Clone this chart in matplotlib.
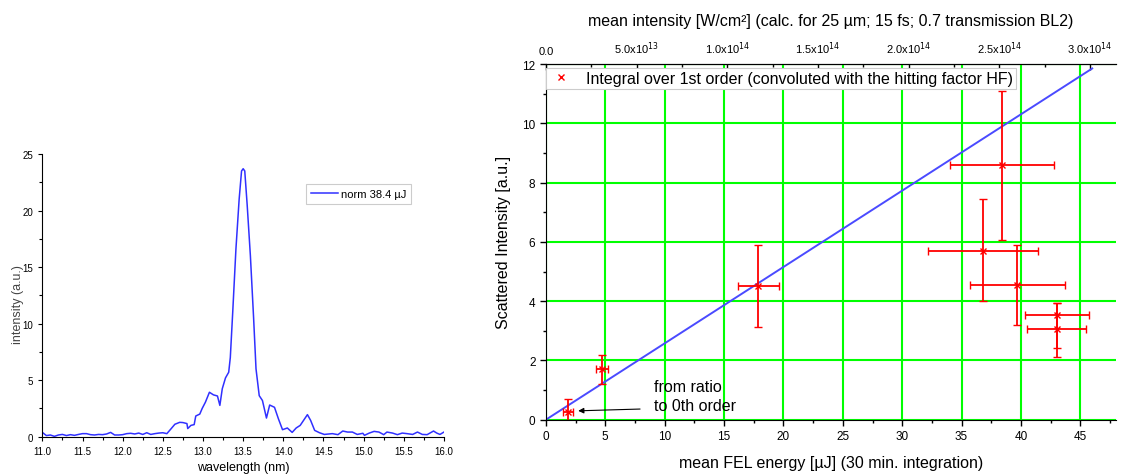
import numpy as np
import matplotlib
matplotlib.use('Agg')
import matplotlib.pyplot as plt
from matplotlib.ticker import MultipleLocator, FixedLocator, FixedFormatter

plt.rcParams['font.family'] = ['Liberation Sans', 'DejaVu Sans']

# spectrum (left)
wavelength = [11.0, 11.05, 11.1, 11.15, 11.2, 11.25, 11.3, 11.35, 11.4, 11.45, 11.5, 11.55, 11.6, 11.65,
              11.7, 11.75, 11.8, 11.85, 11.9, 11.95, 12.0, 12.05, 12.1, 12.15, 12.2, 12.25, 12.3, 12.35,
              12.4, 12.45, 12.5, 12.55, 12.6, 12.65, 12.71, 12.75, 12.8, 12.81, 12.85, 12.89, 12.91, 12.96,
              12.99, 13.03, 13.08, 13.13, 13.18, 13.21, 13.24, 13.28, 13.32, 13.34, 13.37, 13.41, 13.45,
              13.48, 13.5, 13.52, 13.55, 13.59, 13.63, 13.66, 13.7, 13.74, 13.79, 13.83, 13.89, 13.94,
              13.99, 14.05, 14.11, 14.16, 14.21, 14.3, 14.34, 14.39, 14.45, 14.51, 14.61, 14.68, 14.74,
              14.8, 14.86, 14.92, 14.99, 15.01, 15.07, 15.13, 15.19, 15.25, 15.29, 15.36, 15.42, 15.48,
              15.54, 15.61, 15.67, 15.73, 15.79, 15.87, 15.91, 15.95, 16.0]
intensity = [0.38, 0.1, 0.15, 0.03, 0.15, 0.2, 0.1, 0.18, 0.12, 0.2, 0.27, 0.27, 0.18, 0.15,
             0.2, 0.18, 0.24, 0.38, 0.15, 0.15, 0.18, 0.27, 0.3, 0.24, 0.32, 0.2, 0.35, 0.2,
             0.27, 0.32, 0.35, 0.27, 0.68, 1.1, 1.27, 1.25, 1.16, 0.72, 1.0, 1.07, 1.83, 2.0,
             2.5, 3.05, 3.93, 3.7, 3.6, 2.77, 4.24, 5.2, 5.7, 7.0, 11.0, 16.6, 21.0,
             23.5, 23.7, 23.5, 20.5, 16.0, 10.5, 6.0, 3.63, 3.2, 1.65, 2.8, 2.6, 1.56,
             0.62, 0.77, 0.38, 0.77, 1.0, 1.95, 1.44, 0.56, 0.35, 0.2, 0.27, 0.18, 0.5,
             0.41, 0.41, 0.2, 0.3, 0.12, 0.32, 0.47, 0.41, 0.18, 0.41, 0.32, 0.18, 0.32,
             0.27, 0.2, 0.41, 0.2, 0.18, 0.5, 0.32, 0.2, 0.41]

# scattered intensity (right)
fel_energy = [1.85, 4.7, 17.9, 38.4, 36.8, 39.7, 43.05, 43.0]
scattered = [0.27, 1.7, 4.52, 8.6, 5.7, 4.53, 3.52, 3.05]
energy_err = [0.4, 0.5, 1.75, 4.35, 4.6, 4.0, 2.7, 2.45]
scattered_err_low = [0.42, 0.5, 1.38, 2.55, 1.7, 1.34, 1.09, 0.92]
scattered_err_high = [0.42, 0.5, 1.38, 2.5, 1.75, 1.37, 0.43, 0.9]
fit_x = [0, 46]
fit_y = [0, 11.85]

top_ticks = [0.0, 5.0e13, 1.0e14, 1.5e14, 2.0e14, 2.5e14, 3.0e14]
top_labels = ['0.0', '5.0x10$^{13}$', '1.0x10$^{14}$', '1.5x10$^{14}$', '2.0x10$^{14}$',
              '2.5x10$^{14}$', '3.0x10$^{14}$']
w_per_uj = 6.55e12  # W/cm^2 per uJ

fig = plt.figure(figsize=(11.26, 4.77), dpi=100)

# ---- left: spectrum ----
ax1 = fig.add_axes([0.0376, 0.0824, 0.3567, 0.5926])
ax1.plot(wavelength, intensity, color='#3030ff', lw=1.1, label='norm 38.4 µJ')
ax1.set_xlim(11, 16)
ax1.set_ylim(0, 25)
ax1.xaxis.set_major_locator(MultipleLocator(0.5))
ax1.xaxis.set_minor_locator(MultipleLocator(0.25))
ax1.yaxis.set_major_locator(MultipleLocator(5))
ax1.yaxis.set_minor_locator(MultipleLocator(2.5))
ax1.xaxis.set_major_formatter(plt.FormatStrFormatter('%.1f'))
for s in ['top', 'right']:
    ax1.spines[s].set_visible(False)
ax1.tick_params(labelsize=7, length=3, width=0.8)
ax1.tick_params(which='minor', length=2, width=0.8)
ax1.set_xlabel('wavelength (nm)', fontsize=9, labelpad=4)
ax1.set_ylabel('intensity (a.u.)', fontsize=9, color='#444444')
ax1.yaxis.set_label_coords(-0.045, 0.47)
leg1 = ax1.legend(loc='upper left', bbox_to_anchor=(0.6565, 0.894), fontsize=8, fancybox=False,
                  edgecolor='#cccccc', handlelength=2.4, handletextpad=0.3, borderpad=0.45,
                  borderaxespad=0, framealpha=1)
leg1.get_frame().set_linewidth(0.8)

# ---- right: scattered intensity ----
ax2 = fig.add_axes([0.4848, 0.118, 0.5063, 0.7457])
ax2.set_axisbelow(True)
ax2.grid(True, which='major', color='#00ff00', lw=1.5)
ax2.plot(fit_x, fit_y, color='#4a4aff', lw=1.4)
ax2.errorbar(fel_energy, scattered, xerr=energy_err, yerr=[scattered_err_low, scattered_err_high],
             fmt='x', color='red', ms=5, mew=1.0, elinewidth=1.3, capsize=3, capthick=1.3,
             label='Integral over 1st order (convoluted with the hitting factor HF)')
ax2.set_xlim(0, 48)
ax2.set_ylim(0, 12)
ax2.xaxis.set_major_locator(MultipleLocator(5))
ax2.xaxis.set_minor_locator(MultipleLocator(2.5))
ax2.yaxis.set_major_locator(MultipleLocator(2))
ax2.yaxis.set_minor_locator(MultipleLocator(1))
ax2.spines['right'].set_visible(False)
ax2.tick_params(labelsize=8.5, length=4, width=1, top=False)
ax2.tick_params(which='minor', length=2.5, width=1)
ax2.set_xlabel('mean FEL energy [µJ] (30 min. integration)', fontsize=11.5, labelpad=9)
ax2.set_ylabel('Scattered Intensity [a.u.]', fontsize=11.5, labelpad=8)

h, l = ax2.get_legend_handles_labels()
leg2 = ax2.legend([h[0][0]], l, loc='upper left', bbox_to_anchor=(0.0, 0.99), fontsize=11.5,
                  fancybox=False, edgecolor='#cccccc', handlelength=1.5, borderpad=0.2,
                  borderaxespad=0, framealpha=1)
leg2.get_frame().set_linewidth(0.8)

ax2.text(9.1, 0.8, 'from ratio\nto 0th order', fontsize=11.5, va='center', ha='left',
         linespacing=1.3)
ax2.annotate('', xy=(2.72, 0.3), xytext=(7.93, 0.36),
             arrowprops=dict(arrowstyle='-|>', color='black', lw=0.8, mutation_scale=8,
                             shrinkA=0, shrinkB=0))

top = ax2.secondary_xaxis('top', functions=(lambda e: e * w_per_uj, lambda i: i / w_per_uj))
top.xaxis.set_major_locator(FixedLocator(top_ticks))
top.xaxis.set_major_formatter(FixedFormatter(top_labels))
top.xaxis.set_minor_locator(MultipleLocator(2.5e13))
top.tick_params(direction='in', labelsize=8, length=4, width=1, pad=6)
top.tick_params(which='minor', direction='in', length=2.5, width=1)
top.set_xlabel('mean intensity [W/cm²] (calc. for 25 µm; 15 fs; 0.7 transmission BL2)',
               fontsize=11.5, labelpad=10)

fig.savefig('out.png', dpi=100)
